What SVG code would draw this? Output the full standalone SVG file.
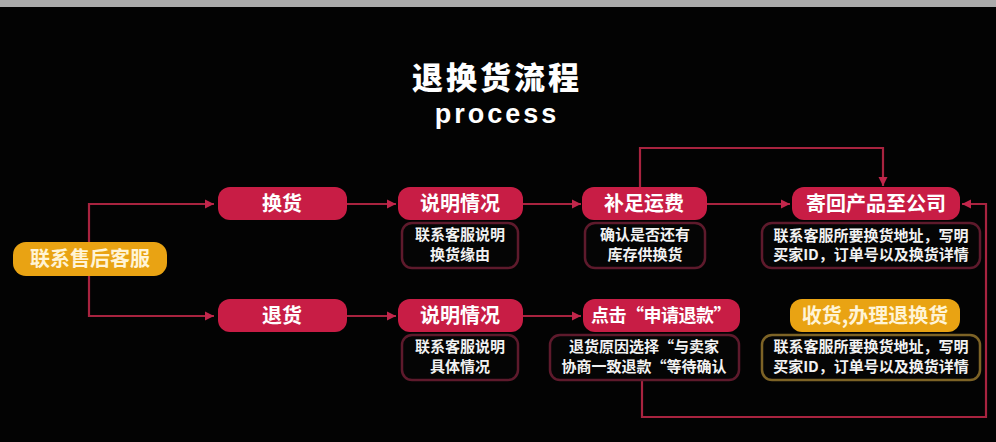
<svg xmlns="http://www.w3.org/2000/svg" width="996" height="442" viewBox="0 0 996 442">
<defs>
<marker id="ah" markerUnits="userSpaceOnUse" markerWidth="10" markerHeight="10" refX="9" refY="5" orient="auto">
<path d="M0,0.5 L9,5 L0,9.5 Z" fill="#c2264b"/>
</marker>
<style>
.line{fill:none;stroke:#a8233f;stroke-width:2.2}
.pill{fill:#c81d45}
.opill{fill:#e9a313}
.desc{fill:#050505;stroke:#5e1a2c;stroke-width:2.5}
.odesc{fill:#050505;stroke:#7d6326;stroke-width:2.5}
.pt{font-family:"Noto Sans CJK SC","Noto Sans",sans-serif;font-weight:700;font-size:20px;fill:#ffffff;text-anchor:middle}
.ot{font-family:"Noto Sans CJK SC","Noto Sans",sans-serif;font-weight:700;font-size:20px;fill:#fff4d6;text-anchor:middle}
.dt{font-family:"Noto Sans CJK SC","Noto Sans",sans-serif;font-weight:700;font-size:15px;fill:#f2f2f2;text-anchor:middle}
</style>
</defs>
<rect x="0" y="0" width="996" height="442" fill="#030303"/>
<rect x="0" y="0" width="996" height="7" fill="#ababab"/>
<g id="title">
<text x="497" y="89" font-family="Noto Sans CJK SC, sans-serif" font-weight="900" font-size="31" fill="#ffffff" text-anchor="middle" letter-spacing="3">退换货流程</text>
<text x="497" y="123" font-family="Liberation Sans, Arial, sans-serif" font-weight="700" font-size="27" fill="#ffffff" text-anchor="middle" letter-spacing="3">process</text>
</g>
<g id="connectors">
<path class="line" d="M214 204 H89 V316 H214" marker-end="url(#ah)"/>
<path class="line" d="M89 204 H214" marker-end="url(#ah)"/>
<path class="line" d="M347 204 H396" marker-end="url(#ah)"/>
<path class="line" d="M523 204 H581" marker-end="url(#ah)"/>
<path class="line" d="M707 204 H790" marker-end="url(#ah)"/>
<path class="line" d="M640 187 V148 H883 V186" marker-end="url(#ah)"/>
<path class="line" d="M642 380 V417 H986 V204 H962" marker-end="url(#ah)"/>
<path class="line" d="M347 316 H396" marker-end="url(#ah)"/>
<path class="line" d="M523 316 H581" marker-end="url(#ah)"/>
</g>
<g id="n-contact">
<rect class="opill" x="13" y="242" width="154" height="34" rx="13"/>
<text class="ot" x="90" y="266">联系售后客服</text>
</g>
<g id="n-exchange">
<rect class="pill" x="218" y="187" width="129" height="33" rx="12"/>
<text class="pt" x="282" y="211">换货</text>
</g>
<g id="n-explain1">
<rect class="pill" x="398" y="187" width="125" height="33" rx="12"/>
<text class="pt" x="460" y="211">说明情况</text>
<rect class="desc" x="402" y="223" width="116" height="45" rx="10"/>
<text class="dt" x="460" y="240">联系客服说明</text>
<text class="dt" x="460" y="260">换货缘由</text>
</g>
<g id="n-freight">
<rect class="pill" x="582" y="187" width="125" height="33" rx="12"/>
<text class="pt" x="644" y="211">补足运费</text>
<rect class="desc" x="585" y="223" width="120" height="45" rx="10"/>
<text class="dt" x="645" y="240">确认是否还有</text>
<text class="dt" x="645" y="260">库存供换货</text>
</g>
<g id="n-sendback">
<rect class="pill" x="792" y="187" width="168" height="33" rx="12"/>
<text class="pt" x="876" y="211">寄回产品至公司</text>
<rect class="desc" x="762" y="223" width="218" height="45" rx="10"/>
<text class="dt" x="871" y="241">联系客服所要换货地址，写明</text>
<text class="dt" x="871" y="260">买家ID，订单号以及换货详情</text>
</g>
<g id="n-return">
<rect class="pill" x="218" y="299" width="129" height="33" rx="12"/>
<text class="pt" x="282" y="323">退货</text>
</g>
<g id="n-explain2">
<rect class="pill" x="398" y="299" width="125" height="33" rx="12"/>
<text class="pt" x="460" y="323">说明情况</text>
<rect class="desc" x="402" y="335" width="116" height="45" rx="10"/>
<text class="dt" x="460" y="352">联系客服说明</text>
<text class="dt" x="460" y="372">具体情况</text>
</g>
<g id="n-refund">
<rect class="pill" x="583" y="299" width="157" height="33" rx="12"/>
<text class="pt" x="661" y="322" style="font-size:18px;letter-spacing:-0.5px">点击“申请退款”</text>
<rect class="desc" x="550" y="335" width="189" height="45" rx="10"/>
<text class="dt" x="644" y="352">退货原因选择“与卖家</text>
<text class="dt" x="644" y="372">协商一致退款“等待确认</text>
</g>
<g id="n-receive">
<rect class="opill" x="790" y="299" width="170" height="33" rx="12"/>
<text class="ot" x="875" y="323">收货,办理退换货</text>
<rect class="odesc" x="762" y="335" width="218" height="45" rx="10"/>
<text class="dt" x="871" y="352">联系客服所要换货地址，写明</text>
<text class="dt" x="871" y="372">买家ID，订单号以及换货详情</text>
</g>
</svg>
